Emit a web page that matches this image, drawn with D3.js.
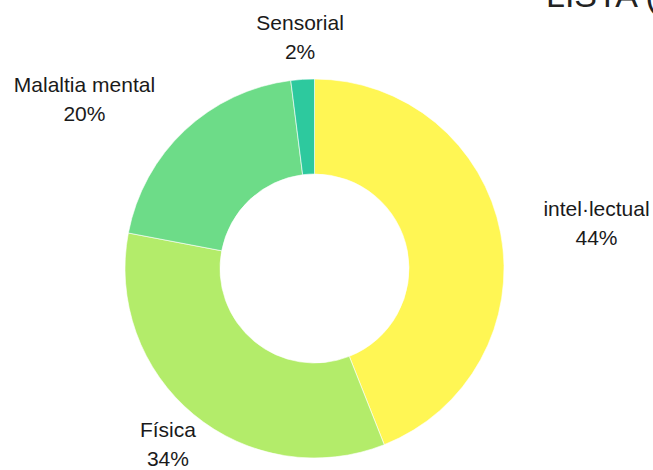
<!DOCTYPE html>
<html>
<head>
<meta charset="utf-8">
<script src="https://cdn.jsdelivr.net/npm/d3@7"></script>
<style>
  html, body { margin: 0; padding: 0; background: #ffffff; overflow: hidden; }
  svg { display: block; font-family: "Liberation Sans", Arial, sans-serif; }
</style>
</head>
<body>
<svg id="chart" width="653" height="470"></svg>
<script>
const title = "LISTA (%)";
const categories = ["intel·lectual", "Física", "Malaltia mental", "Sensorial"];
const values = [44, 34, 20, 2];
const colors = ["#fff654", "#b3ec6a", "#6ddc88", "#2dc99e"];

const width = 653, height = 470;
const cx = 314.5, cy = 268.5;
const outerR = 189.5, innerR = 94.5, labelR = 230;

const svg = d3.select("#chart");

svg.append("text")
  .attr("x", 546).attr("y", 7)
  .attr("font-size", 34)
  .attr("fill", "#222")
  .text(title);

const data = categories.map((c, i) => ({ name: c, value: values[i], color: colors[i] }));
const pie = d3.pie().value(d => d.value).sort(null);
const arcs = pie(data);
const arc = d3.arc().innerRadius(innerR).outerRadius(outerR);

const g = svg.append("g").attr("transform", `translate(${cx},${cy})`);

g.selectAll("path").data(arcs).join("path")
  .attr("d", arc)
  .attr("fill", d => d.data.color)
  .attr("stroke", "#ffffff")
  .attr("stroke-width", 0.6);

const total = d3.sum(values);
const labels = g.selectAll("g.lbl").data(arcs).join("g").attr("class", "lbl");
labels.each(function(d) {
  const a = (d.startAngle + d.endAngle) / 2;
  const px = labelR * Math.sin(a), py = -labelR * Math.cos(a);
  let anchor = "middle";
  if (Math.abs(Math.cos(a)) < 0.75) anchor = Math.sin(a) > 0 ? "start" : "end";
  const sel = d3.select(this);
  const t = sel.append("text")
    .attr("font-size", 21)
    .attr("fill", "#1a1a1a")
    .attr("text-anchor", "middle");
  const l1 = t.append("tspan").attr("y", py - 9).text(d.data.name);
  const l2 = t.append("tspan").attr("y", py + 20).text(Math.round(d.data.value / total * 100) + "%");
  const w = Math.max(l1.node().getComputedTextLength(), l2.node().getComputedTextLength());
  let centerX = px;
  if (anchor === "start") centerX = px + 3 + w / 2;
  if (anchor === "end") centerX = px - 2 - w / 2;
  l1.attr("x", centerX);
  l2.attr("x", centerX);
});
</script>
</body>
</html>
